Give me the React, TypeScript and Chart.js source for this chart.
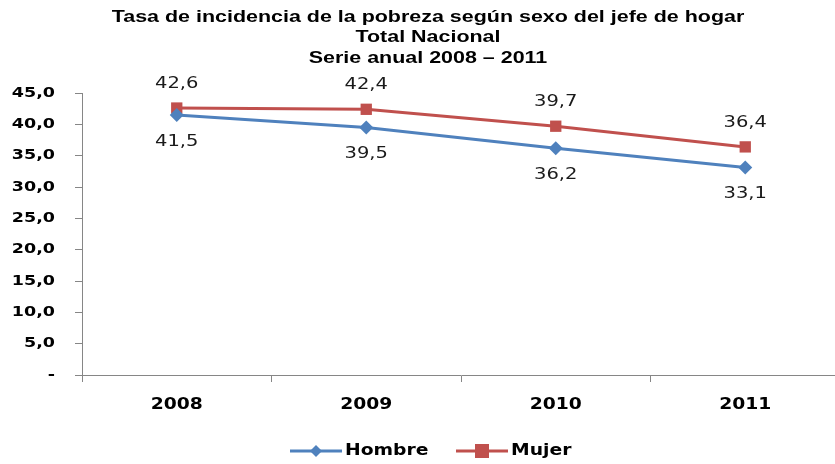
import React, { useEffect, useRef } from "react";
import { Chart, registerables } from "chart.js";

Chart.register(...registerables);

const categories = ["2008", "2009", "2010", "2011"];
const hombre = [41.5, 39.5, 36.2, 33.1];
const mujer = [42.6, 42.4, 39.7, 36.4];
const yTicks = [0, 5, 10, 15, 20, 25, 30, 35, 40, 45];
const titleLines = [
  "Tasa de incidencia de la pobreza según sexo del jefe de hogar",
  "Total Nacional",
  "Serie anual 2008 – 2011",
];
const seriesNames = ["Hombre", "Mujer"];
const BLUE = "#4F81BD";
const RED = "#C0504D";

const fmt = (v: number) => (v === 0 ? "-" : v.toFixed(1).replace(".", ","));

function stretchText(ctx: any, text: string, x: number, y: number, align: string, sx: number) {
  ctx.save();
  ctx.translate(x, y);
  ctx.scale(sx, 1);
  ctx.textAlign = align;
  ctx.textBaseline = "middle";
  ctx.fillText(text, 0, 0);
  ctx.restore();
}

const decorPlugin = {
  id: "decor",
  afterDatasetsDraw(chart: any) {
    const ctx = chart.ctx;
    ctx.save();
    // y tick labels
    const ys = chart.scales.y;
    ctx.fillStyle = "#000";
    ctx.font = "bold 14px 'DejaVu Sans'";
    yTicks.forEach((v) => {
      stretchText(ctx, fmt(v), 55, ys.getPixelForValue(v), "right", 1.25);
    });
    // x tick labels
    const xs = chart.scales.x;
    ctx.font = "bold 16px 'DejaVu Sans'";
    categories.forEach((c, i) => {
      stretchText(ctx, c, xs.getPixelForValue(i), 405, "center", 1.17);
    });
    // data labels
    ctx.font = "15px 'DejaVu Sans'";
    ctx.fillStyle = "#1a1a1a";
    chart.data.datasets.forEach((ds: any, di: number) => {
      const meta = chart.getDatasetMeta(di);
      meta.data.forEach((pt: any, i: number) => {
        const dy = di === 0 ? 27 : -24;
        stretchText(ctx, fmt(ds.data[i]), pt.x, pt.y + dy, "center", 1.3);
      });
    });
    // title
    ctx.fillStyle = "#000";
    ctx.font = "bold 16.5px 'Liberation Sans'";
    const cx = 428;
    titleLines.forEach((t, i) => stretchText(ctx, t, cx, 17 + i * 20.5, "center", 1.3));
    // legend
    const items = [
      { name: seriesNames[0], color: BLUE, style: "diamond", x: 290 },
      { name: seriesNames[1], color: RED, style: "square", x: 456 },
    ];
    const ly = 451;
    items.forEach((it) => {
      ctx.strokeStyle = it.color;
      ctx.lineWidth = 3;
      ctx.beginPath();
      ctx.moveTo(it.x, ly);
      ctx.lineTo(it.x + 52, ly);
      ctx.stroke();
      ctx.fillStyle = it.color;
      const mx = it.x + 26;
      if (it.style === "diamond") {
        ctx.beginPath();
        ctx.moveTo(mx, ly - 6);
        ctx.lineTo(mx + 6, ly);
        ctx.lineTo(mx, ly + 6);
        ctx.lineTo(mx - 6, ly);
        ctx.closePath();
        ctx.fill();
      } else {
        ctx.fillRect(mx - 7, ly - 7, 14, 14);
      }
      ctx.fillStyle = "#000";
      ctx.font = "bold 15px 'DejaVu Sans'";
      stretchText(ctx, it.name, it.x + 55, ly, "left", 1.25);
    });
    ctx.restore();
  },
};

export default function App() {
  const ref = useRef<HTMLCanvasElement>(null);
  useEffect(() => {
    const chart = new Chart(ref.current!, {
      type: "line",
      data: {
        labels: categories,
        datasets: [
          {
            label: seriesNames[0],
            data: hombre,
            borderColor: BLUE,
            backgroundColor: BLUE,
            borderWidth: 3,
            pointStyle: "rectRot",
            pointRadius: 7,
            pointBorderWidth: 0,
          },
          {
            label: seriesNames[1],
            data: mujer,
            borderColor: RED,
            backgroundColor: RED,
            borderWidth: 3,
            pointStyle: "rect",
            pointRadius: 8,
            pointBorderWidth: 0,
          },
        ],
      },
      options: {
        animation: false,
        responsive: false,
        layout: { padding: { top: 93, bottom: 39, left: 0, right: 2 } },
        plugins: { legend: { display: false }, title: { display: false }, tooltip: { enabled: false } },
        scales: {
          x: {
            offset: true,
            grid: { offset: true, drawOnChartArea: false, tickLength: 7, color: "#868686" },
            border: { color: "#868686", width: 1 },
            ticks: { font: { family: "DejaVu Sans", size: 15, weight: "bold" }, color: "rgba(0,0,0,0)", padding: 12 },
            afterFit(scale: any) {
              scale.height = 50;
            },
          },
          y: {
            min: 0,
            max: 45,
            grid: { drawOnChartArea: false, tickLength: 7, color: "#868686" },
            border: { color: "#868686", width: 1 },
            ticks: {
              stepSize: 5,
              font: { family: "DejaVu Sans", size: 15, weight: "bold" },
              color: "rgba(0,0,0,0)",
              padding: 18,
              callback: (v: any) => fmt(Number(v)),
            },
            afterFit(scale: any) {
              scale.width = 82;
            },
          },
        },
      },
      plugins: [decorPlugin],
    });
    return () => chart.destroy();
  }, []);
  return (
    <div style={{ position: "fixed", left: 0, top: 0, width: 835, height: 464, overflow: "hidden", background: "#fff" }}>
      <canvas ref={ref} width={848} height={464} style={{ width: 848, height: 464, display: "block" }} />
    </div>
  );
}
